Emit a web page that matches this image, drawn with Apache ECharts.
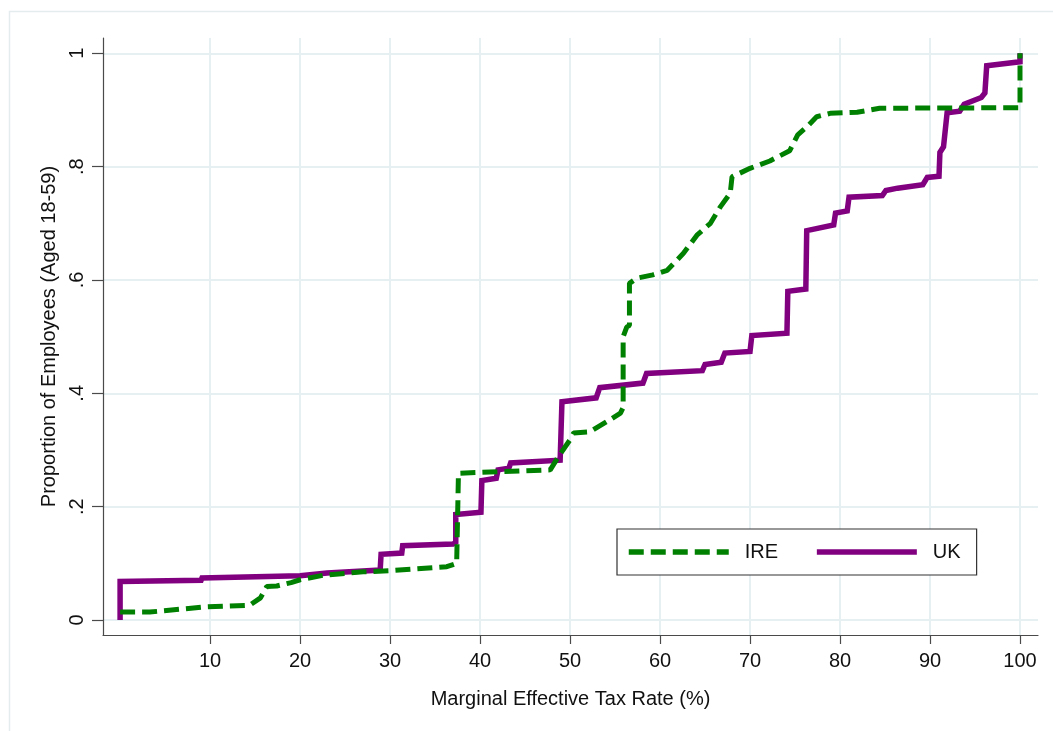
<!DOCTYPE html>
<html>
<head>
<meta charset="utf-8">
<script src="https://cdn.jsdelivr.net/npm/echarts@6/dist/echarts.min.js"></script>
<style>
  html, body { margin: 0; padding: 0; background: #ffffff; }
  #chart { width: 1053px; height: 731px; }
</style>
</head>
<body>
<div id="chart"></div>
<script>
// Cumulative distribution of marginal effective tax rates, employees aged 18-59
const seriesNames = ['IRE', 'UK'];

const xTicks = [10, 20, 30, 40, 50, 60, 70, 80, 90, 100];
const yTicks = [0, 0.2, 0.4, 0.6, 0.8, 1];
const yTickLabels = ['0', '.2', '.4', '.6', '.8', '1'];

// UK: tax rate (%) and cumulative share at each corner of the step curve
const ukRate = [0, 0, 9, 9.1, 20, 23, 28.9, 29, 31.3, 31.4, 37, 37.3, 37.3, 40.1, 40.2, 41.8, 42, 43.2, 43.4,
  48.9, 49.1, 49.1, 52.9, 53.3, 58.1, 58.5, 64.7, 65, 66.8, 67.2, 70, 70.2, 74.1, 74.2, 76.2, 76.3,
  79.3, 79.5, 80.8, 81, 84.7, 85.1, 86.4, 89.2, 89.7, 91, 91.1, 91.5, 91.9, 93.3, 93.8, 95.7, 96.1,
  96.3, 100, 100];
const ukShare = [0, 0.068, 0.07, 0.074, 0.078, 0.083, 0.088, 0.116, 0.118, 0.131, 0.134, 0.137, 0.186, 0.19, 0.246, 0.25, 0.265, 0.268, 0.277,
  0.282, 0.284, 0.385, 0.392, 0.41, 0.418, 0.435, 0.44, 0.451, 0.455, 0.471, 0.474, 0.502, 0.506, 0.58, 0.584, 0.687,
  0.697, 0.718, 0.722, 0.746, 0.749, 0.758, 0.762, 0.768, 0.781, 0.783, 0.825, 0.835, 0.895, 0.898, 0.91, 0.922, 0.93,
  0.978, 0.985, 1.0];

// Ireland: tax rate (%) and cumulative share
const ireRate = [0, 3.3, 9.4, 14.4, 15.6, 16.3, 17.4, 19, 20, 22.6, 27, 30, 36.3, 37.4, 37.6, 47.8, 48.7, 50, 50.4,
  52.2, 54.4, 55.6, 55.9, 55.9, 56.3, 56.6, 56.6, 57.4, 59.2, 60.8, 62.6, 64.1, 65.6, 66.7, 67.8, 68, 70,
  72.2, 74.4, 75.3, 76.3, 77.4, 78.9, 81.9, 84.4, 100, 100];
const ireShare = [0.014, 0.014, 0.023, 0.026, 0.039, 0.059, 0.06, 0.066, 0.071, 0.079, 0.085, 0.087, 0.094, 0.1, 0.259, 0.265, 0.288, 0.318, 0.33,
  0.332, 0.353, 0.365, 0.375, 0.5, 0.517, 0.52, 0.594, 0.603, 0.609, 0.617, 0.647, 0.679, 0.7, 0.729, 0.753, 0.782, 0.797,
  0.81, 0.828, 0.856, 0.87, 0.888, 0.894, 0.896, 0.903, 0.904, 1.0];

const pairs = (xs, ys) => xs.map((x, i) => [x, ys[i]]);

const FONT = '"Liberation Sans", Arial, sans-serif';
const AXIS_COLOR = '#4a4a4a';
const GRID_COLOR = '#e6eff2';
const IRE_COLOR = '#008000';
const UK_COLOR = '#800080';
const IRE_DASH = [15, 7];

const chart = echarts.init(document.getElementById('chart'), null, { renderer: 'canvas' });

chart.setOption({
  animation: false,
  backgroundColor: '#ffffff',
  textStyle: { fontFamily: FONT },
  graphic: [{
    type: 'rect',
    shape: { x: 9.5, y: 11.5, width: 1100, height: 800 },
    style: { fill: 'none', stroke: '#e4eced', lineWidth: 1.5 },
    silent: true,
    z: -10
  }],
  grid: { left: 103, right: 15, top: 38, bottom: 96, containLabel: false },
  xAxis: {
    type: 'value',
    min: -1.9,
    max: 102,
    name: 'Marginal Effective Tax Rate (%)',
    nameLocation: 'middle',
    nameGap: 54,
    nameTextStyle: { fontSize: 20, color: '#111', fontFamily: FONT },
    axisLine: { show: true, onZero: false, lineStyle: { color: AXIS_COLOR, width: 1.2 } },
    axisTick: { show: true, length: 9, customValues: xTicks, lineStyle: { color: AXIS_COLOR, width: 1.2 } },
    axisLabel: { customValues: xTicks, margin: 16, fontSize: 20, color: '#111', fontFamily: FONT },
    splitLine: { show: true, customValues: xTicks, lineStyle: { color: GRID_COLOR, width: 2 } }
  },
  yAxis: {
    type: 'value',
    min: -0.0265,
    max: 1.027,
    name: 'Proportion of Employees (Aged 18-59)',
    nameLocation: 'middle',
    nameGap: 42,
    nameTextStyle: { fontSize: 20, color: '#111', fontFamily: FONT },
    axisLine: { show: true, onZero: false, lineStyle: { color: AXIS_COLOR, width: 1.2 } },
    axisTick: { show: true, length: 11, customValues: yTicks, lineStyle: { color: AXIS_COLOR, width: 1.2 } },
    axisLabel: {
      customValues: yTicks,
      rotate: 90,
      margin: 16,
      fontSize: 20,
      color: '#111',
      fontFamily: FONT,
      formatter: (v) => yTickLabels[yTicks.findIndex(t => Math.abs(t - v) < 1e-6)]
    },
    splitLine: { show: true, customValues: yTicks, lineStyle: { color: GRID_COLOR, width: 2 } }
  },
  legend: {
    data: [
      { name: seriesNames[0], lineStyle: { width: 5.5, color: IRE_COLOR, type: IRE_DASH } },
      { name: seriesNames[1], lineStyle: { width: 5.5, color: UK_COLOR } }
    ],
    left: 617,
    top: 529,
    orient: 'horizontal',
    padding: [13, 16, 13, 9],
    itemWidth: 100,
    itemHeight: 20,
    itemGap: 36,
    itemStyle: { opacity: 0 },
    borderColor: '#333',
    borderWidth: 1.2,
    backgroundColor: '#ffffff',
    textStyle: { fontSize: 20, color: '#111', fontFamily: FONT, padding: [0, 0, 0, 11] }
  },
  series: [
    {
      name: 'UK',
      type: 'line',
      data: pairs(ukRate, ukShare),
      symbol: 'none',
      color: UK_COLOR,
      lineStyle: { color: UK_COLOR, width: 5.5, join: 'miter' },
      z: 2
    },
    {
      name: 'IRE',
      type: 'line',
      data: pairs(ireRate, ireShare),
      symbol: 'none',
      color: IRE_COLOR,
      lineStyle: { color: IRE_COLOR, width: 5, type: IRE_DASH },
      z: 3
    }
  ]
});
</script>
</body>
</html>
